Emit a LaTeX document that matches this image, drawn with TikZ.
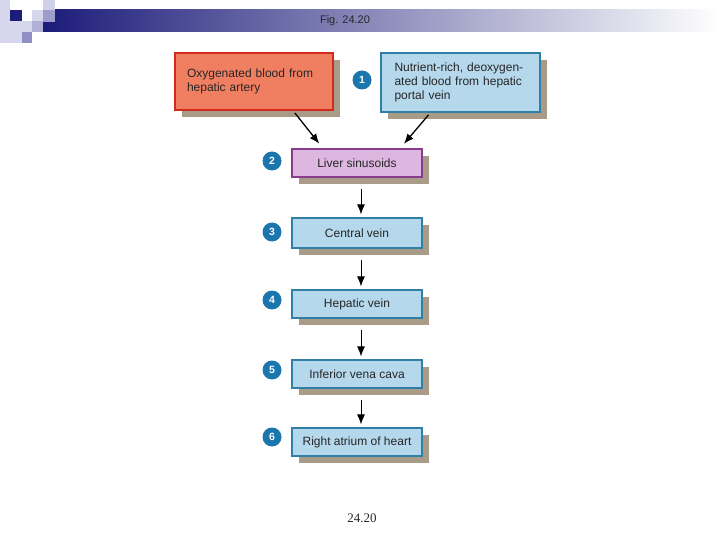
\documentclass[tikz,border=0pt]{standalone}
\usepackage{fontspec}
\setmainfont{Liberation Sans}
\newfontfamily\footfont{Liberation Serif}
\usetikzlibrary{arrows.meta,shadows}
\definecolor{salmonfill}{HTML}{F07F62}
\definecolor{salmonline}{HTML}{D42A1E}
\definecolor{paleblue}{HTML}{B5D8EC}
\definecolor{blueline}{HTML}{2F7FA6}
\definecolor{lilac}{HTML}{DDB7DF}
\definecolor{lilacline}{HTML}{8A3C8C}
\definecolor{shadowtan}{HTML}{A89C88}
\definecolor{stepblue}{HTML}{1B76AE}
\definecolor{navy}{HTML}{1C1C7A}
\definecolor{lavlight}{HTML}{D6D6EC}
\definecolor{lavmid}{HTML}{9C9CCE}
\begin{document}
\begin{tikzpicture}[x=1pt, y=-1pt,
  every node/.style={text=black!85},
  vessel/.style={draw, line width=1.2pt, minimum width=130pt, minimum height=28pt, inner sep=0pt,
    font=\fontsize{12}{14}\selectfont, general shadow={fill=shadowtan, shadow xshift=7pt, shadow yshift=-7pt}},
  source/.style={vessel, align=left, minimum height=57pt},
  stepnum/.style={circle, fill=stepblue, text=white, minimum size=19pt, inner sep=0pt,
    font=\bfseries\fontsize{10.5}{10.5}\selectfont},
  flow/.style={-{Latex[length=10pt,width=8pt]}, line width=1.3pt, shorten <=3pt, shorten >=6pt},
  down/.style={flow, line width=1pt, shorten <=11pt, shorten >=3pt}
]
\useasboundingbox (0,0) rectangle (720,540);
\fill[lavlight] (0,0) rectangle (10,43);
\fill[lavlight] (10,21) rectangle (22,43);
\shade[left color=navy, right color=white] (43,10) rectangle (720,32);
\fill[navy] (10,10) rectangle (22,21);
\fill[lavlight] (22,21) rectangle (32,32);
\fill[lavmid!80] (32,21) rectangle (43,32);
\fill[lavlight] (32,10) rectangle (43,21);
\fill[lavlight!90!lavmid] (43,0) rectangle (55,10);
\fill[lavmid] (43,10) rectangle (55,22);
\fill[lavmid!90!navy] (22,32) rectangle (32,43);
\node[font=\fontsize{11}{11}\selectfont] (fig) at (345,21) {Fig. 24.20};

\node[source, fill=salmonfill, draw=salmonline, text width=134pt, minimum width=158pt] (artery) at (254,81.5)
  {Oxygenated blood from\\hepatic artery};
\node[source, fill=paleblue, draw=blueline, text width=132pt, minimum width=159pt, minimum height=59pt] (portal) at (460.5,82.5)
  {Nutrient-rich, deoxygen-\\ated blood from hepatic\\portal vein};
\node[vessel, fill=lilac, draw=lilacline] (sinusoids) at (357,163) {Liver sinusoids};
\node[vessel, fill=paleblue, draw=blueline, minimum height=30pt] (central) at (357,233) {Central vein};
\node[vessel, fill=paleblue, draw=blueline] (hepatic) at (357,304) {Hepatic vein};
\node[vessel, fill=paleblue, draw=blueline] (cava) at (357,374) {Inferior vena cava};
\node[vessel, fill=paleblue, draw=blueline] (atrium) at (357,442) {Right atrium of heart};

\node[stepnum] (n1) at (362,80) {1};
\node[stepnum] (n2) at (272,161) {2};
\node[stepnum] (n3) at (272,232) {3};
\node[stepnum] (n4) at (272,300) {4};
\node[stepnum] (n5) at (272,370) {5};
\node[stepnum] (n6) at (272,437) {6};

\draw[flow] ([xshift=39pt]artery.south) -- ([xshift=-34pt]sinusoids.north);
\draw[flow] ([xshift=-30pt]portal.south) -- ([xshift=43pt]sinusoids.north);
\draw[down] ([xshift=4pt]sinusoids.south) -- ([xshift=4pt]central.north);
\draw[down] ([xshift=4pt]central.south) -- ([xshift=4pt]hepatic.north);
\draw[down] ([xshift=4pt]hepatic.south) -- ([xshift=4pt]cava.north);
\draw[down] ([xshift=4pt]cava.south) -- ([xshift=4pt]atrium.north);

\node[font=\footfont\fontsize{13}{13}\selectfont] (footer) at (362,518) {24.20};
\end{tikzpicture}
\end{document}
